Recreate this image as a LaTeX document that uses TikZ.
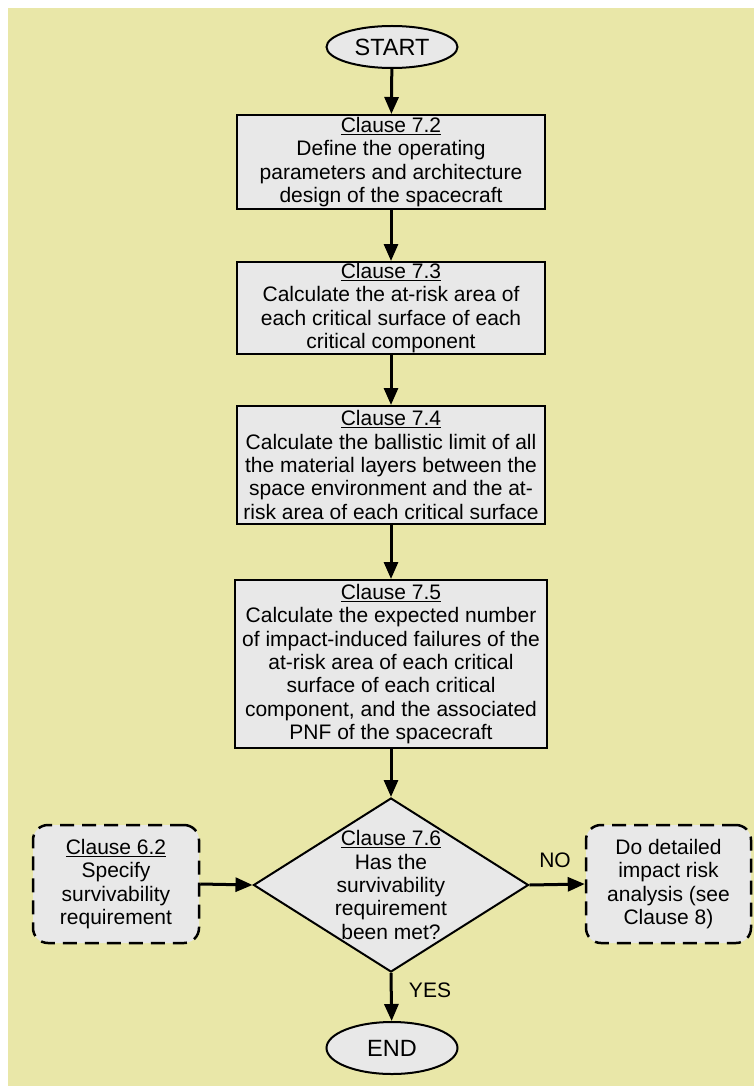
\documentclass[tikz,border=0pt]{standalone}
\usepackage{fontspec}
\setmainfont{Liberation Sans}
\usetikzlibrary{shapes.geometric,arrows.meta}
\definecolor{bgyellow}{RGB}{233,231,168}
\definecolor{boxgray}{RGB}{232,232,232}
\begin{document}
\begin{tikzpicture}[x=1pt,y=-1pt,
  base/.style={font=\fontsize{21}{23.3}\selectfont, align=center, inner sep=0pt},
  procbox/.style={base, rectangle, draw=black, line width=2pt, fill=boxgray, minimum width=308pt},
  terminal/.style={base, font=\fontsize{23.5}{26}\selectfont, ellipse, draw=black, line width=2pt, fill=boxgray, minimum width=131pt, minimum height=42pt},
  decision/.style={diamond, draw=black, line width=2pt, fill=boxgray, minimum width=275pt, minimum height=174pt, inner sep=0pt},
  optbox/.style={base, rectangle, draw=black, line width=2.5pt, dash pattern=on 14pt off 8pt, rounded corners=15pt, fill=boxgray, minimum width=166pt, minimum height=118pt},
  lbl/.style={base},
  flow/.style={line width=3pt, -{Triangle[length=17pt,width=14pt]}}
]
\useasboundingbox (0,0) rectangle (754,1086);
\fill[white] (0,0) rectangle (754,1086);
\fill[bgyellow] (8,8) rectangle (754,1086);

\node[terminal] (start) at (392,47) {START};
\node[procbox, minimum height=94pt] (c72) at (391,162)
  {\underline{Clause 7.2}\\Define the operating\\parameters and architecture\\design of the spacecraft};
\node[procbox, minimum height=92pt] (c73) at (391,308)
  {\underline{Clause 7.3}\\Calculate the at-risk area of\\each critical surface of each\\critical component};
\node[procbox, minimum height=118pt] (c74) at (391,465)
  {\underline{Clause 7.4}\\Calculate the ballistic limit of all\\the material layers between the\\space environment and the at-\\risk area of each critical surface};
\node[procbox, minimum width=312pt, minimum height=168pt] (c75) at (391,664)
  {\underline{Clause 7.5}\\Calculate the expected number\\of impact-induced failures of the\\at-risk area of each critical\\surface of each critical\\component, and the associated\\PNF of the spacecraft};
\node[decision] (c76) at (391,885) {};
\node[base] (c76t) at (391,885)
  {\underline{Clause 7.6}\\Has the\\survivability\\requirement\\been met?};
\node[optbox] (c62) at (116,884)
  {\underline{Clause 6.2}\\Specify\\survivability\\requirement};
\node[optbox, minimum width=165pt] (c8) at (668.5,884)
  {Do detailed\\impact risk\\analysis (see\\Clause 8)};
\node[terminal, minimum height=52pt] (end) at (392,1048) {END};

\node[lbl] (no) at (555,860) {NO};
\node[lbl] (yes) at (430,990) {YES};

\draw[flow] (start) -- (c72);
\draw[flow] (c72) -- (c73);
\draw[flow] (c73) -- (c74);
\draw[flow] (c74) -- (c75);
\draw[flow] (c75) -- (c76);
\draw[flow] (c62.east) -- (c76.west);
\draw[flow] (c76.east) -- (c8.west);
\draw[flow] (c76.south) -- (end);
\end{tikzpicture}
\end{document}
